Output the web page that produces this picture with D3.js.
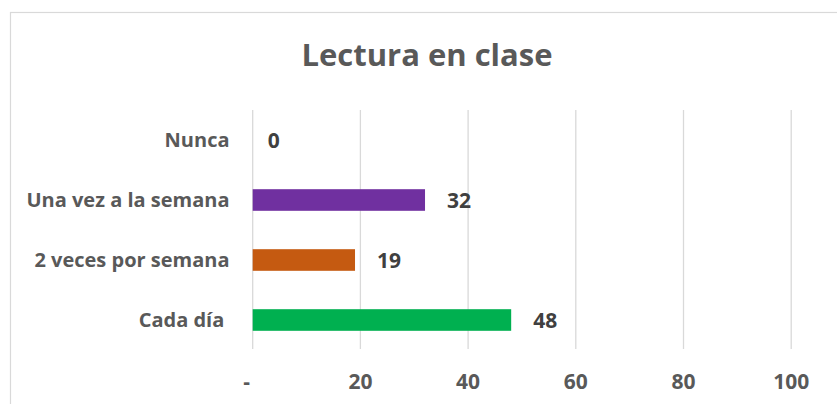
<!DOCTYPE html>
<html>
<head>
<meta charset="utf-8">
<script src="https://cdn.jsdelivr.net/npm/d3@7"></script>
<style>
  html, body { margin: 0; padding: 0; background: #fff; }
  svg { display: block; }
  text { font-family: "Open Sans", "Liberation Sans", sans-serif; font-weight: bold; }
</style>
</head>
<body>
<svg id="chart" width="837" height="404"></svg>
<script>
const title = "Lectura en clase";
const categories = ["Nunca", "Una vez a la semana", "2 veces por semana", "Cada día "];
const values = [0, 32, 19, 48];
const barColors = ["#7F7F7F", "#7030A0", "#C55A11", "#00B050"];
const tickValues = [0, 20, 40, 60, 80, 100];
const tickLabels = ["-", "20", "40", "60", "80", "100"];

const svg = d3.select("#chart");

// chart border
svg.append("rect")
  .attr("x", 10.5).attr("y", 12.5)
  .attr("width", 900).attr("height", 500)
  .attr("fill", "#fff").attr("stroke", "#D9D9D9").attr("stroke-width", 1.2);

const x = d3.scaleLinear().domain([0, 100]).range([252.7, 791.2]);
const y = d3.scaleBand().domain(categories).range([110, 350])
  .paddingInner(0.64).paddingOuter(0.32);

// gridlines
svg.append("g")
  .selectAll("line")
  .data(tickValues)
  .join("line")
  .attr("x1", d => x(d)).attr("x2", d => x(d))
  .attr("y1", 110).attr("y2", 349)
  .attr("stroke", "#D9D9D9").attr("stroke-width", 1.3);

// title
svg.append("text")
  .attr("x", 427).attr("y", 66)
  .attr("text-anchor", "middle")
  .attr("fill", "#595959")
  .attr("font-size", 31)
  .text(title);

// bars
svg.append("g")
  .selectAll("rect")
  .data(values)
  .join("rect")
  .attr("x", x(0))
  .attr("y", (d, i) => y(categories[i]))
  .attr("width", d => x(d) - x(0))
  .attr("height", y.bandwidth())
  .attr("fill", (d, i) => barColors[i]);

// data labels
svg.append("g")
  .selectAll("text")
  .data(values)
  .join("text")
  .attr("x", d => x(d) + (d === 0 ? 15 : 22))
  .attr("y", (d, i) => y(categories[i]) + y.bandwidth() / 2)
  .attr("dy", "0.4em")
  .attr("fill", "#404040")
  .attr("font-size", 21)
  .text(d => d);

// category labels
svg.append("g")
  .selectAll("text")
  .data(categories)
  .join("text")
  .attr("x", 229.5)
  .attr("y", d => y(d) + y.bandwidth() / 2)
  .attr("dy", "0.36em")
  .attr("text-anchor", "end")
  .attr("fill", "#595959")
  .attr("font-size", 20)
  .style("white-space", "pre")
  .text(d => d);

// x tick labels
svg.append("g")
  .selectAll("text")
  .data(tickValues)
  .join("text")
  .attr("x", (d, i) => x(d) - (i === 0 ? 6 : 0))
  .attr("y", 389)
  .attr("text-anchor", "middle")
  .attr("fill", "#595959")
  .attr("font-size", 21)
  .text((d, i) => tickLabels[i]);
</script>
</body>
</html>
